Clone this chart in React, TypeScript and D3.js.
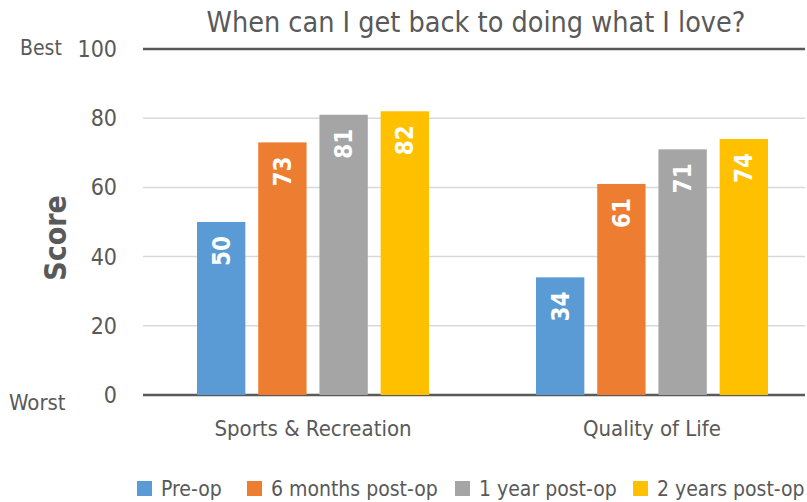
import * as d3 from "d3";

const categories = ["Sports & Recreation", "Quality of Life"];
const seriesNames = ["Pre-op", "6 months post-op", "1 year post-op", "2 years post-op"];
const seriesColors = ["#5B9BD5", "#ED7D31", "#A5A5A5", "#FFC000"];
const preOp = [50, 34];
const sixMonths = [73, 61];
const oneYear = [81, 71];
const twoYears = [82, 74];
const yTicks = [0, 20, 40, 60, 80, 100];

const W = 807;
const H = 502;
const FONT = "'Liberation Sans Narrow', 'DejaVu Sans Condensed', Roboto, sans-serif";
const TXT = "#595959";

export default function App() {
  const values = [preOp, sixMonths, oneYear, twoYears];
  const plotLeft = 143;
  const plotRight = 805;

  const y = d3.scaleLinear().domain([0, 100]).range([395, 49]);
  const x = d3.scaleBand<string>().domain(categories).range([143.5, 821.5]);
  // four bars per group, ~48px wide with ~13px gaps
  const inner = d3
    .scaleBand<string>()
    .domain(seriesNames)
    .range([-116, 116])
    .paddingInner(0.21);

  const legendX = [137, 247, 455, 633];

  return (
    <svg width={W} height={H} style={{ position: "absolute", left: 0, top: 0 }}>
      <rect width={W} height={H} fill="#fff" />
      <text x={476} y={32} textAnchor="middle" fontSize={28.5} fill={TXT} fontFamily={FONT}>
        When can I get back to doing what I love?
      </text>

      {yTicks.map((t) => (
        <g key={t}>
          <line
            x1={plotLeft}
            x2={plotRight}
            y1={y(t)}
            y2={y(t)}
            stroke={t === 0 || t === 100 ? "#595959" : "#d9d9d9"}
            strokeWidth={t === 0 || t === 100 ? 2.5 : 1.5}
          />
          <text
            x={117}
            y={y(t) + 8}
            textAnchor="end"
            fontSize={23}
            fill={TXT}
            fontFamily={FONT}
          >
            {t}
          </text>
        </g>
      ))}

      <text x={20} y={55} fontSize={21} fill={TXT} fontFamily={FONT}>
        Best
      </text>
      <text x={9} y={410} fontSize={22} fill={TXT} fontFamily={FONT}>
        Worst
      </text>
      <text
        transform={`translate(66,238) rotate(-90)`}
        textAnchor="middle"
        fontSize={30}
        fontWeight="bold"
        fill={TXT}
        fontFamily={FONT}
      >
        Score
      </text>

      {categories.map((c, ci) => {
        const cx = (x(c) as number) + x.bandwidth() / 2;
        return (
          <g key={c}>
            {seriesNames.map((s, si) => {
              const v = values[si][ci];
              const bx = cx + (inner(s) as number);
              const bw = inner.bandwidth();
              const top = y(v);
              return (
                <g key={s}>
                  <rect x={bx} y={top} width={bw} height={y(0) - top} fill={seriesColors[si]} />
                  <text
                    transform={`translate(${bx + bw / 2 + 8.5},${top + 14}) rotate(-90)`}
                    textAnchor="end"
                    fontSize={24}
                    fontWeight="bold"
                    fill="#fff"
                    fontFamily={FONT}
                  >
                    {v}
                  </text>
                </g>
              );
            })}
            <text
              x={cx}
              y={436}
              textAnchor="middle"
              fontSize={22}
              fill={TXT}
              fontFamily={FONT}
            >
              {c}
            </text>
          </g>
        );
      })}

      {seriesNames.map((s, i) => (
        <g key={s}>
          <rect x={legendX[i]} y={481} width={15} height={15} fill={seriesColors[i]} />
          <text x={legendX[i] + 24} y={496} fontSize={21} fill={TXT} fontFamily={FONT}>
            {s}
          </text>
        </g>
      ))}
    </svg>
  );
}
